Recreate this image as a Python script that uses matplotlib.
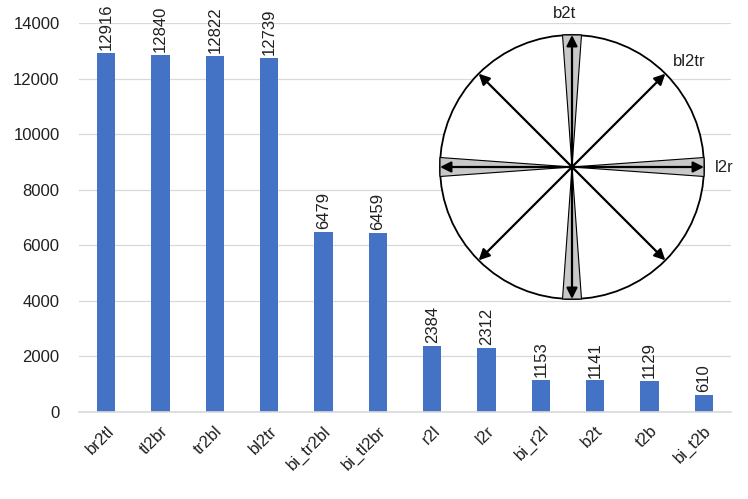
import numpy as np
import matplotlib.pyplot as plt
from matplotlib.patches import Circle, Polygon

plt.rcParams['font.family'] = ['Liberation Sans', 'DejaVu Sans']

categories = ['br2tl', 'tl2br', 'tr2bl', 'bl2tr', 'bi_tr2bl', 'bi_tl2br',
              'r2l', 'l2r', 'bi_r2l', 'b2t', 't2b', 'bi_t2b']
counts = [12916, 12840, 12822, 12739, 6479, 6459, 2384, 2312, 1153, 1141, 1129, 610]
yticks = [0, 2000, 4000, 6000, 8000, 10000, 12000, 14000]

W, H = 748, 499
fig = plt.figure(figsize=(W / 100, H / 100), dpi=100)

# main bar chart
ax = fig.add_axes([79 / W, 1 - 412 / H, (731 - 79) / W, (412 - 23) / H])
x = np.arange(len(categories))
ax.bar(x, counts, width=0.34, color='#4472c4', zorder=2)
for xi, v in zip(x, counts):
    ax.annotate(str(v), (xi, v), xytext=(0, 2), textcoords='offset points',
                rotation=90, ha='center', va='bottom', fontsize=12, color='#202020')
ax.set_xlim(-0.5, len(categories) - 0.5)
ax.set_ylim(0, 14000)
ax.set_yticks(yticks)
ax.set_yticklabels([str(t) for t in yticks], fontsize=12, color='#202020')
ax.set_xticks(x)
ax.set_xticklabels(categories, rotation=45, ha='right', rotation_mode='anchor',
                   fontsize=12, color='#202020')
ax.tick_params(axis='both', length=0)
ax.tick_params(axis='x', pad=8)
ax.tick_params(axis='y', pad=14)
ax.grid(axis='y', color='#d9d9d9', lw=0.9, zorder=0)
for s in ['top', 'right', 'left']:
    ax.spines[s].set_visible(False)
ax.spines['bottom'].set_color('#d9d9d9')
ax.spines['bottom'].set_linewidth(1.2)

# inset: direction diagram (pixel units, origin at circle centre)
cx, cy, R = 572, 167, 132
L, Rr, T, B = 420, 745, 0, 320
ax2 = fig.add_axes([L / W, 1 - B / H, (Rr - L) / W, (B - T) / H])
ax2.set_xlim(L - cx, Rr - cx)
ax2.set_ylim(-(B - cy), cy - T)
ax2.axis('off')
ax2.patch.set_alpha(0)

ax2.add_patch(Circle((0, 0), R, facecolor='white', edgecolor='black', lw=1.3, zorder=1))
hw = 9.5
for ang in [0, 90, 180, 270]:
    a = np.deg2rad(ang)
    d = np.array([np.cos(a), np.sin(a)])
    n = np.array([-d[1], d[0]])
    pts = [(0, 0), tuple(d * R + n * hw), tuple(d * R - n * hw)]
    ax2.add_patch(Polygon(pts, closed=True, facecolor='#c8c8c8',
                          edgecolor='black', lw=0.8, zorder=2))
for ang in [0, 45, 90, 135]:
    a = np.deg2rad(ang)
    p1 = (R * np.cos(a), R * np.sin(a))
    p2 = (-R * np.cos(a), -R * np.sin(a))
    ax2.annotate('', xy=p1, xytext=p2,
                 arrowprops=dict(arrowstyle='<|-|>', color='black', lw=1.6,
                                 mutation_scale=16, shrinkA=0, shrinkB=0), zorder=3)

ax2.text(565 - cx, cy - 13, 'b2t', ha='center', va='center', fontsize=12, color='#202020')
ax2.text(673 - cx, cy - 62, 'bl2tr', ha='left', va='center', fontsize=12, color='#202020')
ax2.text(715 - cx, 0, 'l2r', ha='left', va='center', fontsize=12, color='#202020')

fig.savefig('out.png', dpi=100)
